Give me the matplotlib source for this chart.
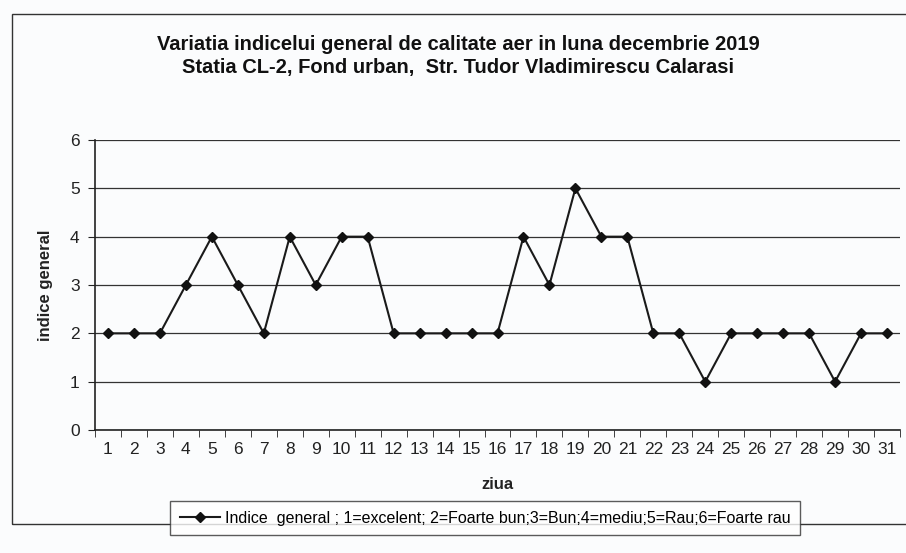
import matplotlib
matplotlib.use("Agg")
import matplotlib.pyplot as plt
from matplotlib.patches import Rectangle

days = list(range(1, 32))
values = [2, 2, 2, 3, 4, 3, 2, 4, 3, 4, 4, 2, 2, 2, 2, 2, 4, 3, 5, 4, 4, 2, 2, 1, 2, 2, 2, 2, 1, 2, 2]
yticks = [0, 1, 2, 3, 4, 5, 6]
title = "Variatia indicelui general de calitate aer in luna decembrie 2019\nStatia CL-2, Fond urban,  Str. Tudor Vladimirescu Calarasi"
legend_label = "Indice  general ; 1=excelent; 2=Foarte bun;3=Bun;4=mediu;5=Rau;6=Foarte rau"

plt.rcParams['font.family'] = ['Liberation Sans', 'DejaVu Sans']

W, H = 906, 553
fig = plt.figure(figsize=(W/100, H/100), dpi=100)
fig.patch.set_facecolor('#fbfcfd')

# outer chart border
fig.patches.append(Rectangle((12/W, 1 - 524/H), (W - 10)/W, (524 - 14)/H, transform=fig.transFigure,
                             fill=False, edgecolor='#333333', linewidth=1.0))

ax = fig.add_axes([95/W, 1 - 430/H, 805/W, (430 - 140)/H])
ax.set_facecolor('#fbfcfd')
line, = ax.plot(days, values, color='#1a1a1a', linewidth=1.5, marker='D', markersize=5,
                markerfacecolor='#111111', markeredgecolor='#111111', label=legend_label)

ax.set_xlim(0.5, 31.5)
ax.set_ylim(0, 6)
ax.set_yticks(yticks)
ax.set_xticks(days)
ax.set_xticks([d + 0.5 for d in range(0, 32)], minor=True)
ax.tick_params(axis='x', which='major', length=0, labelsize=12.5, pad=9, colors='#222222')
ax.tick_params(axis='x', which='minor', length=5, direction='out', color='#222222')
ax.tick_params(axis='y', length=5, direction='out', labelsize=12.5, pad=6, colors='#222222')
ax.yaxis.grid(True, color='#333333', linewidth=0.9)
ax.set_axisbelow(True)
for s in ['top', 'right']:
    ax.spines[s].set_visible(False)
for s in ['left', 'bottom']:
    ax.spines[s].set_color('#222222')
    ax.spines[s].set_linewidth(1.2)

ax.set_ylabel('indice general', fontsize=12, fontweight='bold', color='#222222', labelpad=12)
ax.set_xlabel('ziua', fontsize=12, fontweight='bold', color='#222222', labelpad=14)

fig.text(458/W, 1 - 56/H, title, ha='center', va='center', fontsize=14.5, fontweight='bold',
         color='#111111', linespacing=1.25)

leg = fig.legend(handles=[line], loc='center', bbox_to_anchor=(485/W, 1 - 518/H), frameon=True,
                 fancybox=False, edgecolor='#333333', fontsize=11.5, handlelength=2.5,
                 borderpad=0.6, handletextpad=0.3)
leg.get_frame().set_linewidth(1.0)

fig.savefig('out.png', dpi=100, facecolor=fig.get_facecolor())
